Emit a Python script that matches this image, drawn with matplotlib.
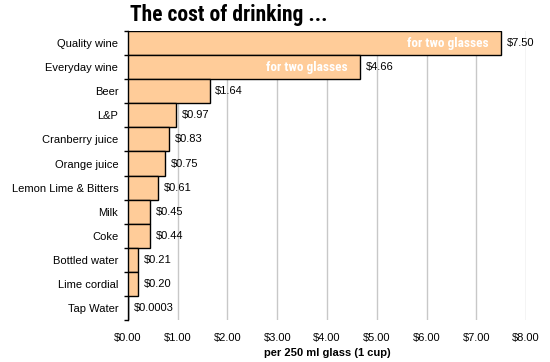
import numpy as np
import matplotlib.pyplot as plt

# drinks, cost per 250 ml glass
drinks = ["Quality wine", "Everyday wine", "Beer", "L&P", "Cranberry juice",
          "Orange juice", "Lemon Lime & Bitters", "Milk", "Coke",
          "Bottled water", "Lime cordial", "Tap Water"]
cost = [7.50, 4.66, 1.64, 0.97, 0.83, 0.75, 0.61, 0.45, 0.44, 0.21, 0.20, 0.0003]
notes = ["for two glasses", "for two glasses"] + [""] * 10
xticks = [0, 1, 2, 3, 4, 5, 6, 7, 8]

narrow = ["Roboto Condensed", "PT Sans Narrow", "Archivo Narrow", "DejaVu Sans"]
plt.rcParams['font.family'] = ['Liberation Sans', 'DejaVu Sans']

fig = plt.figure(figsize=(5.5, 3.62), dpi=100)
ax = fig.add_axes([0.2327, 0.116, 0.7237, 0.798])

y = np.arange(len(drinks))
ax.barh(y, cost, height=1.0, color="#FFCC99", edgecolor="black", linewidth=1, zorder=3)

for i in range(len(drinks)):
    v = cost[i]
    lab = "$%.2f" % v if v >= 0.01 else "$%.4f" % v
    ax.annotate(lab, (v, y[i]), xytext=(4, 0), textcoords="offset points",
                va="center", ha="left", fontsize=8, zorder=4)
    if notes[i]:
        ax.annotate(notes[i], (v, y[i]), xytext=(-9, 0), textcoords="offset points",
                    va="center", ha="right", fontsize=9.5, fontweight="bold",
                    family=narrow, color="white", zorder=4)

ax.set_xlim(0, 8)
ax.set_ylim(len(drinks) - 0.5, -0.5)
ax.set_xticks(xticks)
ax.set_xticklabels(["$%.2f" % t for t in xticks], fontsize=8)
ax.set_yticks(y)
ax.set_yticklabels(drinks, fontsize=8)
ax.set_yticks(np.arange(len(drinks) + 1) - 0.5, minor=True)
ax.tick_params(axis="y", which="major", length=0, pad=7)
ax.tick_params(axis="y", which="minor", length=3, width=1)
ax.tick_params(axis="x", length=0, pad=9)
ax.xaxis.grid(True, color="#c8c8c8", linewidth=1, zorder=0)
for s in ["top", "right", "bottom"]:
    ax.spines[s].set_visible(False)
ax.spines["left"].set_linewidth(1)
ax.set_xlabel("per 250 ml glass (1 cup)", fontsize=8, fontweight="bold", labelpad=4)

fig.text(0.236, 0.99, "The cost of drinking ...", fontsize=15.5, fontweight="bold",
         family=narrow, va="top", ha="left")

fig.savefig("out.png", dpi=100)
